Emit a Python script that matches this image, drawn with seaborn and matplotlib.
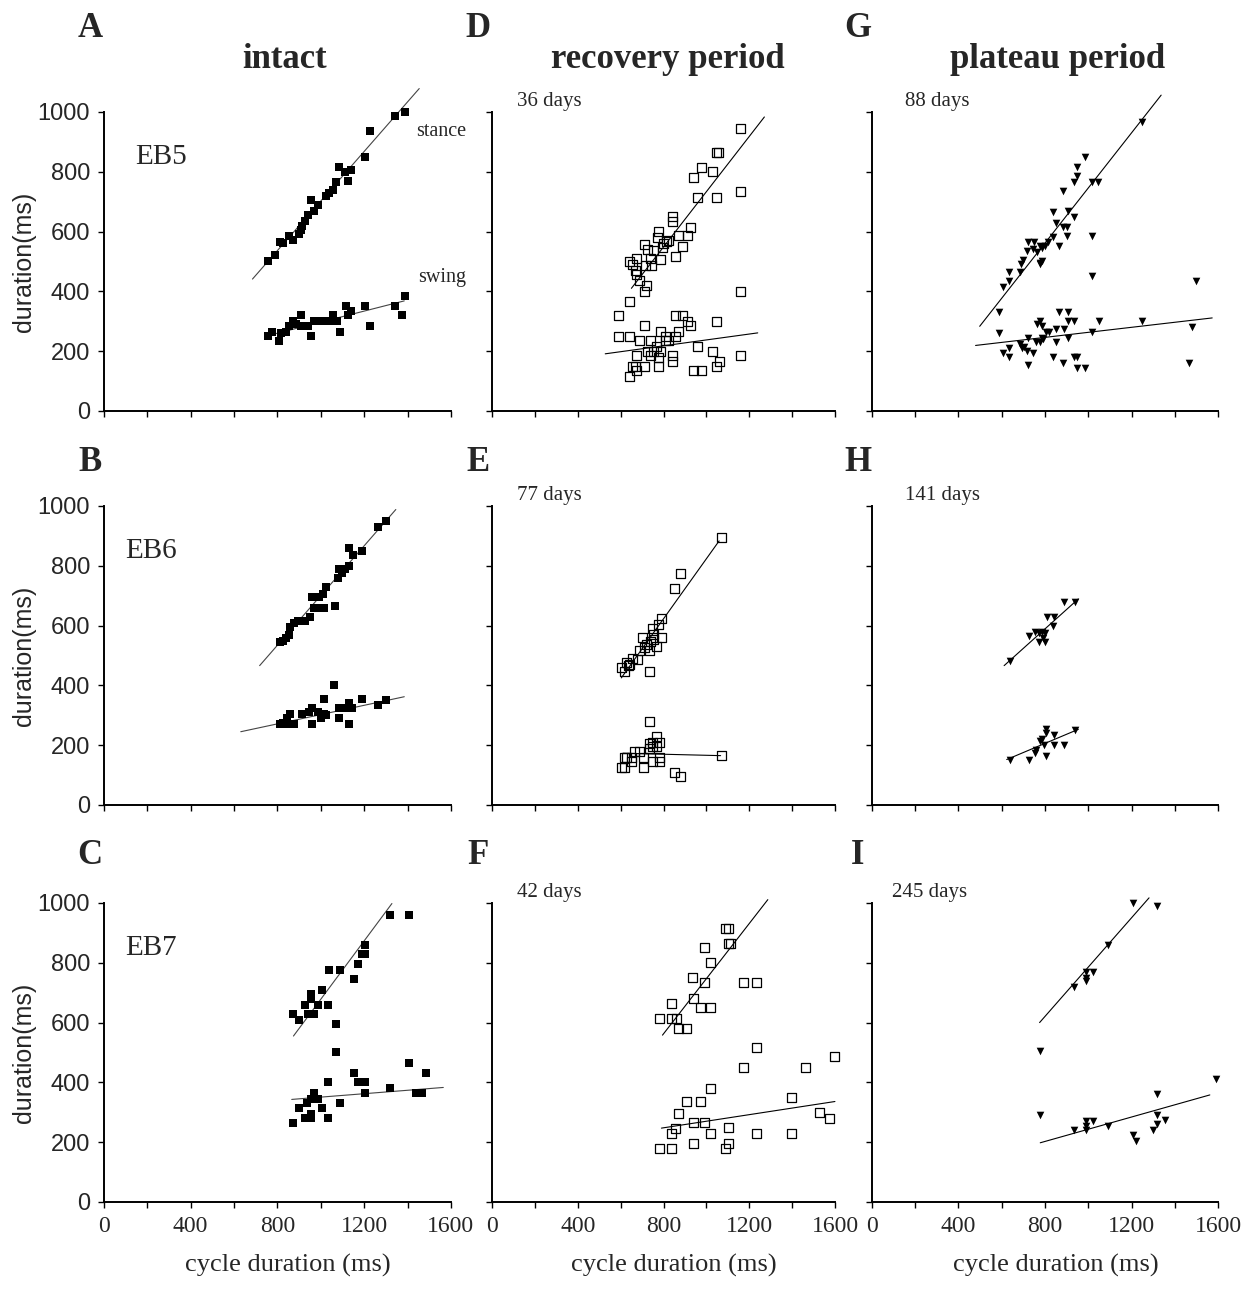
import numpy as np
import pandas as pd
import matplotlib
matplotlib.use('Agg')
import matplotlib.pyplot as plt
import seaborn as sns

# (cycle duration, phase duration) in ms
# --- intact ---
A_stance = [(755, 500), (790, 520), (810, 565), (825, 560), (855, 585), (870, 570), (900, 590), (910, 605),
            (915, 620), (925, 635), (940, 655), (955, 705), (970, 670), (985, 690), (1025, 720), (1040, 730),
            (1055, 740), (1070, 765), (1085, 815), (1110, 800), (1125, 770), (1140, 805), (1205, 850),
            (1225, 935), (1340, 985), (1390, 1000)]
A_swing = [(755, 250), (775, 265), (805, 235), (815, 260), (840, 265), (855, 285), (870, 300), (885, 290),
           (910, 320), (910, 285), (925, 285), (940, 285), (955, 250), (970, 300), (985, 300), (1000, 300),
           (1025, 300), (1040, 300), (1055, 320), (1060, 300), (1075, 300), (1090, 265), (1115, 350),
           (1125, 320), (1140, 335), (1205, 350), (1225, 285), (1340, 350), (1375, 320), (1390, 385)]
B_stance = [(1300, 950), (1265, 930), (1190, 850), (1150, 835), (1130, 860), (1130, 800), (1110, 790),
            (1085, 790), (1080, 760), (1100, 775), (1025, 730), (1010, 705), (990, 695), (960, 695), (970, 660),
            (990, 660), (1015, 660), (1065, 665), (950, 630), (925, 615), (895, 615), (875, 610), (860, 595),
            (855, 570), (840, 560), (825, 550), (810, 545)]
B_swing = [(1060, 400), (1015, 355), (1190, 355), (1265, 335), (1300, 350), (1130, 340), (1145, 325), (1110, 325),
           (1085, 325), (1085, 290), (1130, 270), (1015, 305), (1000, 290), (1025, 300), (985, 310), (960, 325),
           (945, 310), (960, 270), (915, 305), (860, 305), (870, 270), (840, 270), (825, 275), (810, 270),
           (845, 290), (875, 270)]
C_stance = [(1320, 960), (1405, 960), (1205, 860), (1205, 830), (1190, 830), (1170, 795), (1155, 745), (1090, 775),
            (1040, 775), (1005, 710), (1035, 660), (985, 660), (955, 695), (955, 680), (925, 660), (940, 630),
            (955, 630), (970, 630), (870, 630), (900, 610), (1070, 595), (1070, 500)]
C_swing = [(1405, 465), (1485, 430), (1155, 430), (1170, 400), (1190, 400), (1205, 400), (1205, 365), (1320, 380),
           (1440, 365), (1465, 365), (1035, 400), (1090, 330), (1005, 315), (1035, 280), (955, 295), (955, 280),
           (925, 280), (900, 315), (935, 330), (955, 345), (970, 365), (985, 345), (870, 265)]
# --- recovery period ---
D_stance = [(1160, 945), (1045, 865), (1055, 865), (975, 815), (940, 780), (1030, 800), (960, 715), (1045, 715),
            (1160, 735), (840, 650), (840, 635), (925, 615), (775, 600), (770, 580), (825, 570), (855, 515),
            (890, 550), (870, 585), (910, 585), (795, 545), (755, 535), (725, 540), (740, 510), (710, 555),
            (675, 510), (640, 500), (655, 490), (670, 470), (675, 455), (690, 435), (710, 400), (720, 420),
            (785, 505), (800, 560), (815, 565), (745, 485), (715, 485)]
D_swing = [(640, 365), (590, 320), (855, 320), (890, 320), (910, 300), (925, 285), (1045, 300), (1160, 400),
           (590, 250), (640, 250), (710, 285), (690, 235), (740, 235), (785, 265), (810, 250), (855, 250),
           (870, 265), (810, 235), (825, 235), (675, 185), (725, 200), (755, 200), (785, 200), (740, 185),
           (775, 180), (840, 185), (840, 165), (670, 150), (710, 150), (655, 150), (675, 135), (640, 115),
           (775, 150), (940, 135), (975, 135), (960, 215), (1030, 200), (1060, 165), (1045, 150), (1160, 185),
           (765, 215)]
E_stance = [(1070, 895), (880, 775), (850, 725), (790, 625), (775, 605), (750, 590), (790, 560), (700, 560),
            (765, 530), (735, 515), (720, 535), (740, 545), (710, 525), (690, 515), (680, 485), (655, 490),
            (640, 470), (625, 475), (605, 460), (620, 445), (635, 465), (735, 445), (755, 570), (755, 555)]
E_swing = [(735, 280), (765, 230), (780, 210), (750, 210), (765, 195), (735, 205), (735, 190), (750, 195),
           (690, 180), (665, 180), (650, 160), (625, 160), (620, 160), (650, 145), (705, 160), (750, 145),
           (780, 145), (780, 160), (605, 125), (620, 125), (705, 125), (850, 110), (880, 95), (1070, 165)]
F_stance = [(1090, 915), (1105, 915), (1105, 865), (1110, 865), (990, 850), (1020, 800), (935, 750), (990, 735),
            (1175, 735), (1235, 735), (940, 680), (835, 665), (970, 650), (1020, 650), (780, 615), (835, 615),
            (860, 615), (870, 580), (905, 580)]
F_swing = [(1235, 515), (1175, 450), (1460, 450), (1595, 485), (1020, 380), (1395, 350), (905, 335), (970, 335),
           (870, 295), (1525, 300), (1575, 280), (940, 265), (990, 265), (855, 245), (835, 230), (1020, 230),
           (1105, 250), (1235, 230), (1395, 230), (780, 180), (835, 180), (940, 195), (1105, 195), (1090, 180)]
# --- plateau period ---
G_stance = [(1250, 965), (985, 850), (950, 815), (950, 785), (935, 765), (1015, 765), (1045, 765), (885, 735),
            (905, 670), (935, 650), (835, 665), (850, 630), (885, 615), (900, 615), (900, 585), (1015, 585),
            (835, 580), (815, 565), (865, 550), (720, 565), (750, 565), (715, 535), (745, 540), (775, 550),
            (785, 545), (800, 550), (765, 530), (775, 495), (785, 500), (700, 505), (690, 490), (685, 465),
            (635, 465), (635, 435), (605, 415), (1015, 450), (1500, 435), (775, 490)]
G_swing = [(585, 330), (585, 260), (605, 195), (635, 210), (635, 180), (685, 225), (695, 210), (705, 215),
           (715, 200), (720, 155), (745, 195), (720, 245), (760, 230), (765, 290), (775, 300), (785, 285),
           (785, 245), (790, 240), (775, 230), (805, 265), (820, 265), (835, 180), (850, 230), (850, 275),
           (865, 330), (890, 275), (905, 330), (905, 245), (905, 300), (935, 300), (885, 160), (935, 180),
           (950, 180), (950, 145), (985, 145), (1015, 265), (1050, 300), (1250, 300), (1480, 280), (1465, 160)]
H_stance = [(890, 680), (940, 680), (810, 630), (840, 630), (835, 600), (725, 565), (755, 580), (770, 575),
            (785, 580), (800, 575), (770, 545), (800, 545), (790, 560), (640, 480)]
H_swing = [(805, 255), (805, 240), (840, 235), (785, 220), (775, 215), (795, 200), (840, 200), (890, 200),
           (940, 250), (760, 185), (755, 175), (725, 150), (640, 150), (805, 165)]
I_stance = [(1205, 1000), (1320, 990), (1090, 860), (1020, 770), (990, 770), (990, 750), (990, 740), (935, 720),
            (775, 505)]
I_swing = [(1590, 410), (1320, 360), (1320, 290), (1355, 275), (1320, 260), (1300, 240), (1205, 225), (1220, 205),
           (1090, 255), (1020, 270), (990, 270), (990, 255), (990, 240), (935, 240), (775, 290)]

# regression lines as drawn (end points, ms)
A_stance_fit = [(685, 441), (1454, 1078)]
A_swing_fit = [(746, 250), (1385, 368)]
B_stance_fit = [(718, 466), (1346, 988)]
B_swing_fit = [(631, 245), (1385, 362)]
C_stance_fit = [(874, 555), (1328, 998)]
C_swing_fit = [(866, 343), (1565, 383)]
D_stance_fit = [(650, 410), (1270, 983)]
D_swing_fit = [(528, 191), (1239, 261)]
E_stance_fit = [(603, 425), (1059, 883)]
E_swing_fit = [(611, 173), (1066, 165)]
F_stance_fit = [(795, 558), (1286, 1011)]
F_swing_fit = [(790, 247), (1599, 336)]
G_stance_fit = [(498, 283), (1337, 1056)]
G_swing_fit = [(479, 219), (1573, 311)]
H_stance_fit = [(611, 466), (954, 689)]
H_swing_fit = [(623, 152), (954, 253)]
I_stance_fit = [(775, 600), (1281, 1017)]
I_swing_fit = [(778, 198), (1562, 358)]

panel_letters = [['A', 'D', 'G'], ['B', 'E', 'H'], ['C', 'F', 'I']]
col_titles = ['intact', 'recovery period', 'plateau period']
animals = ['EB5', 'EB6', 'EB7']
days = [['36 days', '88 days'], ['77 days', '141 days'], ['42 days', '245 days']]
x_ticks = list(range(0, 1601, 200))
x_ticklabels = ['0', '', '400', '', '800', '', '1200', '', '1600']
y_ticks = list(range(0, 1001, 200))
y_ticklabels = ['0', '200', '400', '600', '800', '1000']

panels = {
    'A': (A_stance, A_swing, A_stance_fit, A_swing_fit),
    'B': (B_stance, B_swing, B_stance_fit, B_swing_fit),
    'C': (C_stance, C_swing, C_stance_fit, C_swing_fit),
    'D': (D_stance, D_swing, D_stance_fit, D_swing_fit),
    'E': (E_stance, E_swing, E_stance_fit, E_swing_fit),
    'F': (F_stance, F_swing, F_stance_fit, F_swing_fit),
    'G': (G_stance, G_swing, G_stance_fit, G_swing_fit),
    'H': (H_stance, H_swing, H_stance_fit, H_swing_fit),
    'I': (I_stance, I_swing, I_stance_fit, I_swing_fit),
}

sns.set_theme(style='ticks')
SERIF = ['Liberation Serif', 'DejaVu Serif']
SANS = ['Liberation Sans', 'DejaVu Sans']
plt.rcParams['font.family'] = SERIF

fig = plt.figure(figsize=(12.57, 12.89), dpi=100)

col_left = [0.0827, 0.3914, 0.6937]
col_width = [0.276, 0.273, 0.2753]
row_bottom = [0.6812, 0.3755, 0.0675]
row_height = 0.2320

marker_style = [
    dict(marker='s', s=30, color='black', edgecolor='black', linewidth=0),
    dict(marker='s', s=42, color='black', facecolor='none', edgecolor='black', linewidth=0.9),
    dict(marker='v', s=30, color='black', edgecolor='black', linewidth=0),
]
line_color = ['#444444', 'black', 'black']

for r in range(3):
    for c in range(3):
        letter = panel_letters[r][c]
        stance, swing, stance_fit, swing_fit = panels[letter]
        ax = fig.add_axes([col_left[c], row_bottom[r], col_width[c], row_height])
        df = pd.DataFrame(stance + swing, columns=['cycle', 'duration'])
        sns.scatterplot(data=df, x='cycle', y='duration', ax=ax, clip_on=False, zorder=3, **marker_style[c])
        for fit in (stance_fit, swing_fit):
            fx, fy = zip(*fit)
            ax.plot(fx, fy, color=line_color[c], lw=0.8, clip_on=False, zorder=2)

        ax.set_xlim(0, 1600)
        ax.set_ylim(0, 1000)
        ax.set_xticks(x_ticks)
        ax.set_yticks(y_ticks)
        sns.despine(ax=ax)
        for side in ('left', 'bottom'):
            ax.spines[side].set_linewidth(1.4)
            ax.spines[side].set_color('black')
        ax.tick_params(direction='out', length=4, width=1, color='black', pad=6)

        if c == 0:
            ax.set_yticklabels(y_ticklabels, fontsize=17, family=SANS)
            ax.set_ylabel('duration(ms)', fontsize=18, family=SANS)
            ax.yaxis.set_label_coords(-0.195, 0.5)
            ax.text(0.06 if r else 0.09, 0.85, animals[r], transform=ax.transAxes,
                    fontsize=21, va='center', ha='left')
        else:
            ax.set_yticklabels([])
            ax.set_ylabel('')
            ax.text(0.073 if c == 1 else (0.058 if r == 2 else 0.095), 1.035, days[r][c - 1],
                    transform=ax.transAxes, fontsize=15, va='center', ha='left')

        if r == 2:
            ax.set_xticklabels(x_ticklabels, fontsize=17)
            ax.set_xlabel('cycle duration (ms)', fontsize=19)
            ax.xaxis.set_label_coords(0.53, -0.175)
        else:
            ax.set_xticklabels([])
            ax.set_xlabel('')

        if letter == 'A':
            ax.text(0.9, 0.935, 'stance', transform=ax.transAxes, fontsize=14.5, va='center')
            ax.text(0.905, 0.447, 'swing', transform=ax.transAxes, fontsize=14.5, va='center')

letter_x = [0.0716, 0.380, 0.6826]
letter_y = [0.978, 0.641, 0.336]
for r in range(3):
    for c in range(3):
        fig.text(letter_x[c], letter_y[r], panel_letters[r][c], fontsize=25, fontweight='bold',
                 ha='center', va='center')

title_x = [0.2267, 0.5314, 0.841]
for c in range(3):
    fig.text(title_x[c], 0.954, col_titles[c], fontsize=25, fontweight='bold', ha='center', va='center')

fig.savefig('out.png', dpi=100, facecolor='white')
